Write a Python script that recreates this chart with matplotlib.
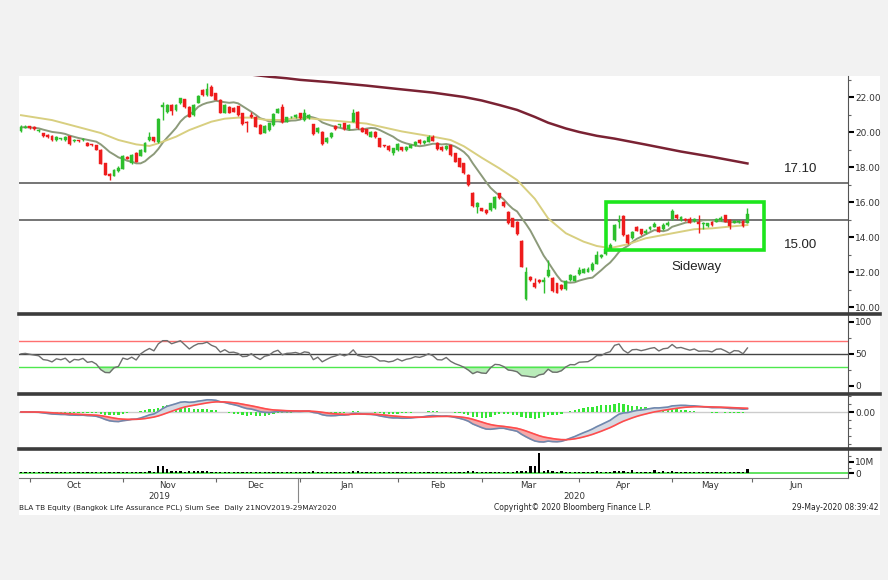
import numpy as np
import pandas as pd
import matplotlib
matplotlib.use('Agg')
import matplotlib.pyplot as plt
from matplotlib.patches import Rectangle
from matplotlib.lines import Line2D
from matplotlib.ticker import FixedLocator, MultipleLocator, FormatStrFormatter, NullFormatter

plt.rcParams['font.family'] = 'DejaVu Sans'

# Thai market holidays (SET closed)
holidays = ['2019-10-14', '2019-10-23', '2019-12-05', '2019-12-10', '2019-12-31',
            '2020-01-01', '2020-02-10', '2020-04-06', '2020-05-01', '2020-05-04',
            '2020-05-06', '2020-06-03']

# daily candles, 27-Sep-2019 .. 29-May-2020
opens = [20.05, 20.25, 20.35, 20.33, 20.05, 19.95, 19.84, 19.80, 19.56, 19.62,
         19.55, 19.78, 19.50, 19.53, 19.55, 19.40, 19.30, 19.25, 19.00, 18.22,
         17.62, 17.52, 17.80, 17.92, 18.58, 18.22, 18.82, 18.66, 18.89, 19.56,
         19.72, 19.45, 21.45, 21.18, 21.56, 21.28, 21.66, 21.88, 21.46, 20.99,
         21.70, 22.42, 22.13, 22.61, 22.23, 21.85, 21.12, 21.46, 21.37, 21.50,
         21.08, 20.61, 20.99, 20.89, 20.42, 19.98, 20.13, 20.42, 21.12, 21.46,
         20.61, 20.85, 20.85, 21.08, 20.70, 20.80, 20.46, 20.04, 20.04, 19.47,
         19.71, 20.36, 20.40, 20.51, 20.17, 20.61, 21.18, 20.23, 20.17, 19.75,
         20.04, 19.66, 19.24, 19.22, 18.80, 18.99, 19.14, 18.99, 19.12, 19.27,
         19.56, 19.37, 19.47, 19.75, 19.41, 19.18, 19.03, 19.27, 18.80, 18.51,
         18.23, 17.56, 16.55, 15.75, 15.66, 15.56, 15.56, 15.66, 16.51, 16.04,
         15.47, 15.08, 14.89, 13.81, 10.46, 11.75, 11.37, 11.56, 11.45, 11.79,
         11.65, 11.37, 11.27, 11.03, 11.56, 11.52, 11.90, 11.98, 12.04, 12.10,
         12.50, 12.85, 13.05, 13.30, 13.85, 14.89, 15.22, 14.13, 13.94, 14.57,
         14.46, 14.23, 14.46, 14.61, 14.57, 14.46, 14.70, 15.03, 15.27, 14.99,
         15.03, 15.03, 14.95, 14.89, 14.78, 14.65, 14.89, 14.89, 14.99, 15.27,
         14.99, 14.84, 14.89, 14.95, 14.84]
closes = [20.28, 20.32, 20.24, 20.18, 20.12, 19.78, 19.72, 19.55, 19.75, 19.66,
          19.76, 19.35, 19.55, 19.50, 19.60, 19.22, 19.27, 19.00, 18.20, 17.57,
          17.52, 17.85, 17.95, 18.66, 18.48, 18.70, 18.33, 18.99, 19.40, 19.75,
          19.48, 20.74, 21.55, 21.56, 21.20, 21.56, 21.94, 21.46, 20.90, 21.56,
          22.08, 22.13, 22.47, 22.08, 21.85, 21.12, 21.56, 21.12, 21.18, 20.99,
          20.46, 20.51, 20.89, 20.32, 19.90, 20.36, 20.51, 21.04, 21.32, 20.61,
          20.85, 20.89, 20.99, 20.80, 21.08, 20.99, 19.90, 20.23, 19.33, 19.66,
          19.98, 20.17, 20.44, 20.17, 20.42, 21.12, 20.23, 20.04, 19.90, 20.04,
          19.75, 19.18, 19.20, 18.99, 19.08, 19.33, 18.99, 19.18, 19.27, 19.46,
          19.37, 19.52, 19.75, 19.52, 19.03, 18.99, 19.22, 18.70, 18.32, 18.04,
          17.66, 16.99, 15.79, 15.98, 15.52, 15.37, 15.94, 16.32, 16.23, 15.79,
          14.80, 14.61, 14.19, 12.32, 12.04, 11.56, 11.18, 11.46, 11.56, 12.13,
          10.90, 10.84, 11.03, 11.52, 11.84, 11.79, 12.13, 12.17, 12.20, 12.50,
          13.00, 13.00, 13.35, 13.55, 14.70, 14.99, 14.13, 13.66, 14.32, 14.38,
          14.19, 14.38, 14.61, 14.76, 14.32, 14.70, 14.80, 15.52, 15.08, 15.18,
          15.00, 14.84, 15.03, 14.76, 14.80, 14.80, 14.70, 15.03, 15.08, 14.89,
          14.65, 14.95, 14.92, 14.65, 15.33]
highs = [20.40, 20.42, 20.38, 20.36, 20.20, 19.98, 19.88, 19.82, 19.78, 19.70,
         19.80, 19.80, 19.62, 19.58, 19.68, 19.44, 19.34, 19.28, 19.02, 18.25,
         17.65, 17.92, 18.05, 18.70, 18.62, 18.74, 18.85, 19.02, 19.45, 20.04,
         19.76, 20.80, 21.75, 21.60, 21.60, 21.62, 21.98, 21.92, 21.50, 21.60,
         22.12, 22.46, 22.83, 22.68, 22.26, 21.88, 21.60, 21.50, 21.42, 21.52,
         21.12, 20.64, 21.15, 20.92, 20.45, 20.40, 20.55, 21.10, 21.38, 21.60,
         20.90, 20.95, 21.05, 21.12, 21.32, 21.04, 20.50, 20.30, 20.08, 19.72,
         20.02, 20.42, 20.50, 20.55, 20.46, 21.31, 21.22, 20.28, 20.20, 20.08,
         20.08, 19.70, 19.30, 19.26, 19.12, 19.38, 19.18, 19.22, 19.32, 19.52,
         19.60, 19.58, 19.84, 19.85, 19.45, 19.22, 19.26, 19.30, 18.84, 18.55,
         18.26, 17.60, 16.58, 16.04, 15.70, 15.60, 15.98, 16.36, 16.55, 16.08,
         15.50, 15.12, 14.92, 13.85, 12.32, 11.80, 11.66, 11.60, 11.75, 12.70,
         11.70, 11.40, 11.30, 11.56, 11.88, 11.84, 12.32, 12.24, 12.30, 12.56,
         13.20, 13.06, 13.40, 13.65, 14.75, 15.27, 15.27, 14.17, 14.36, 14.65,
         14.50, 14.46, 14.66, 14.90, 14.62, 14.80, 14.95, 15.60, 15.32, 15.22,
         15.10, 15.18, 15.08, 15.27, 14.86, 14.84, 14.92, 15.08, 15.20, 15.30,
         15.03, 14.99, 14.97, 14.99, 15.65]
lows = [20.00, 20.22, 20.20, 20.15, 20.02, 19.74, 19.70, 19.52, 19.52, 19.58,
        19.52, 19.30, 19.45, 19.47, 19.52, 19.20, 19.24, 18.98, 18.18, 17.55,
        17.25, 17.48, 17.75, 17.90, 18.45, 18.20, 18.30, 18.62, 18.85, 19.52,
        19.45, 19.40, 20.70, 21.10, 20.98, 21.22, 21.60, 21.40, 20.85, 20.95,
        21.66, 22.10, 22.10, 22.05, 21.82, 21.10, 21.08, 21.08, 21.15, 20.96,
        20.42, 20.04, 20.80, 20.28, 19.88, 19.95, 20.10, 20.38, 21.08, 20.55,
        20.58, 20.80, 20.82, 20.76, 20.66, 20.76, 19.86, 19.98, 19.28, 19.40,
        19.66, 20.12, 20.30, 20.12, 20.14, 20.58, 20.18, 20.00, 19.86, 19.72,
        19.70, 19.14, 19.14, 18.96, 18.70, 18.96, 18.96, 18.96, 19.08, 19.24,
        19.33, 19.34, 19.44, 19.50, 19.00, 18.96, 19.00, 18.66, 18.28, 18.00,
        17.62, 16.95, 15.75, 15.37, 15.48, 15.33, 15.52, 15.62, 16.20, 15.75,
        14.76, 14.56, 14.14, 12.28, 10.42, 11.50, 11.08, 11.40, 10.80, 11.75,
        10.86, 10.80, 10.98, 10.98, 11.52, 11.48, 11.86, 11.94, 12.00, 12.06,
        12.46, 12.80, 13.00, 13.25, 13.80, 14.51, 14.10, 13.60, 13.90, 14.34,
        14.15, 14.20, 14.42, 14.58, 14.28, 14.42, 14.66, 14.99, 15.04, 14.95,
        14.95, 14.80, 14.90, 14.23, 14.46, 14.60, 14.66, 14.86, 14.95, 14.86,
        14.46, 14.80, 14.84, 14.60, 14.80]
volume_m = [1.0, 0.8, 0.9, 0.8, 1.0, 0.9, 0.8, 1.0, 0.9, 0.8,
            0.8, 1.0, 0.8, 0.9, 0.8, 0.9, 1.0, 1.1, 1.2, 1.3,
            1.2, 1.0, 0.9, 1.2, 1.0, 0.9, 1.0, 1.1, 1.4, 2.0,
            1.2, 6.6, 6.0, 3.4, 2.0, 2.4, 2.4, 1.5, 2.0, 2.4,
            2.2, 2.0, 2.4, 1.5, 1.2, 1.4, 1.0, 1.0, 1.1, 1.0,
            1.5, 1.2, 1.0, 1.1, 1.3, 1.0, 1.1, 1.5, 1.2, 1.0,
            0.9, 0.8, 0.9, 1.0, 1.4, 1.2, 2.0, 1.1, 1.0, 0.9,
            1.0, 0.9, 0.8, 1.0, 1.1, 2.4, 2.0, 1.2, 1.0, 1.0,
            0.9, 1.0, 0.9, 0.8, 1.0, 1.1, 0.9, 0.8, 0.9, 1.0,
            0.8, 0.9, 1.0, 0.9, 1.0, 1.1, 0.9, 1.2, 1.3, 1.4,
            1.3, 1.6, 1.8, 1.5, 1.3, 1.2, 1.4, 1.5, 1.2, 1.3,
            1.4, 1.5, 1.7, 2.2, 2.0, 6.5, 6.0, 17.8, 2.4, 3.0,
            2.0, 1.5, 1.6, 1.3, 1.2, 1.0, 1.1, 1.2, 1.0, 1.3,
            1.6, 1.2, 1.4, 1.5, 2.4, 1.8, 1.6, 1.3, 2.5, 1.2,
            1.1, 1.2, 1.3, 3.0, 1.2, 1.6, 1.3, 2.2, 1.4, 1.1,
            1.0, 1.1, 1.0, 1.2, 1.0, 1.1, 1.2, 1.0, 1.1, 1.2,
            1.0, 1.1, 1.0, 1.2, 3.5]

# slow moving average (yellow), by trading-day index
slow_ma_idx = [0, 7, 14, 18, 22, 26, 29, 31, 35, 38, 43, 46, 49, 52, 55, 59, 63, 67,
               71, 78, 86, 93, 97, 100, 104, 108, 112, 116, 119, 123, 127, 130, 133,
               137, 141, 145, 149, 152, 156, 160, 164]
slow_ma_val = [20.98, 20.70, 20.23, 19.96, 19.56, 19.31, 19.22, 19.37, 19.75, 20.13,
               20.61, 20.78, 20.84, 20.84, 20.72, 20.70, 20.85, 20.75, 20.66, 20.50,
               20.05, 19.75, 19.56, 19.20, 18.55, 17.94, 17.27, 16.20, 15.08, 14.23,
               13.75, 13.50, 13.38, 13.60, 13.94, 14.13, 14.32, 14.46, 14.51, 14.61,
               14.70]
# 200-day average (dark red), enters the panel from the top
ma200_idx = [52, 56, 60, 63, 70, 78, 85, 93, 100, 104, 108, 112, 116, 119, 123, 126,
             130, 134, 141, 149, 156, 164]
ma200_val = [23.30, 23.18, 23.09, 23.00, 22.86, 22.67, 22.48, 22.27, 22.02, 21.82,
             21.56, 21.28, 20.88, 20.55, 20.22, 20.02, 19.80, 19.64, 19.30, 18.90,
             18.60, 18.22]

levels = [17.10, 15.00]
level_labels = ['17.10', '15.00']
box_days = (132, 167.7)
box_prices = (13.27, 16.0)


def wilder_rsi(values, n=14, seed=0.12):
    avg_gain = avg_loss = seed
    prev = values[0]
    out = []
    for v in values:
        d = v - prev
        prev = v
        avg_gain = (avg_gain * (n - 1) + max(d, 0)) / n
        avg_loss = (avg_loss * (n - 1) + max(-d, 0)) / n
        out.append(100 - 100 / (1 + avg_gain / avg_loss))
    return np.array(out)


def main():
    cal = pd.bdate_range('2019-09-27', '2020-06-30').difference(pd.to_datetime(holidays))
    n = len(closes)
    x = np.arange(n)
    o = np.array(opens)
    c = np.array(closes)
    h = np.array(highs)
    l = np.array(lows)
    s = pd.Series(closes)

    fast_ma = s.rolling(10, min_periods=1).mean()
    rsi = wilder_rsi(closes)
    ema12 = s.ewm(span=12, adjust=False).mean()
    ema26 = s.ewm(span=26, adjust=False).mean()
    macd = (ema12 - ema26).values
    signal = pd.Series(macd).ewm(span=9, adjust=False).mean().values
    hist = macd - signal

    W, H = 888, 580
    fig = plt.figure(figsize=(W / 100, H / 100), dpi=100, facecolor='#f2f2f2')
    fig.add_artist(Rectangle((19 / W, 1 - 515 / H), (880 - 19) / W, (515 - 76) / H,
                             transform=fig.transFigure, facecolor='white',
                             edgecolor='none', zorder=0))

    left, width = 19 / W, (848 - 19) / W

    def panel(top, bottom):
        ax = fig.add_axes([left, 1 - bottom / H, width, (bottom - top) / H])
        ax.set_facecolor('none')
        for sp in ['top', 'left', 'bottom']:
            ax.spines[sp].set_visible(False)
        ax.spines['right'].set_color('#555555')
        ax.yaxis.tick_right()
        ax.tick_params(axis='y', which='major', direction='out', length=4, width=1.5,
                       color='black', labelsize=6.5, labelcolor='#333333', pad=1)
        ax.tick_params(axis='y', which='minor', direction='out', length=2.5, width=0.8,
                       color='#666666')
        ax.tick_params(axis='x', which='both', bottom=False, labelbottom=False)
        ax.set_xlim(-0.45, 186.7)
        return ax

    ax = panel(76, 313)
    ax_rsi = panel(315, 393)
    ax_macd = panel(395, 448)
    ax_vol = panel(450, 478)

    # ---- price panel
    up = c >= o
    col = np.where(up, '#2dbf2d', '#ee1c1c')
    ax.vlines(x, l, h, colors=col, lw=1, zorder=3)
    ax.bar(x, np.maximum(np.abs(c - o), 0.05), bottom=np.minimum(o, c), width=0.66,
           color=col, edgecolor=col, linewidth=0.3, zorder=4)
    ax.plot(x, fast_ma, color='#8c9a7a', lw=1.4, zorder=2)
    ax.plot(slow_ma_idx, slow_ma_val, color='#d8cf80', lw=1.4, zorder=2)
    ax.plot(ma200_idx, ma200_val, color='#7a2233', lw=1.8, zorder=2)
    for lev, lab, ty in zip(levels, level_labels, [17.90, 13.56]):
        ax.axhline(lev, color='#5e5e5e', lw=1.2, zorder=1)
        ax.text(176, ty, lab, ha='center', va='center', fontsize=9.5,
                family='Liberation Sans', color='#222222')
    ax.add_patch(Rectangle((box_days[0], box_prices[0]), box_days[1] - box_days[0],
                           box_prices[1] - box_prices[0], fill=False,
                           edgecolor='#1de61d', lw=2.6, zorder=5))
    ax.text(152.6, 12.3, 'Sideway', ha='center', va='center', fontsize=9.5,
            family='Liberation Sans', color='#222222')
    ax.set_ylim(9.67, 23.22)
    ax.yaxis.set_major_locator(FixedLocator([10, 12, 14, 16, 18, 20, 22]))
    ax.yaxis.set_major_formatter(FormatStrFormatter('%.2f'))
    ax.yaxis.set_minor_locator(FixedLocator([11, 13, 15, 17, 19, 21, 23]))

    # ---- RSI panel
    ax_rsi.axhline(70, color='#ff7070', lw=1)
    ax_rsi.axhline(50, color='#444444', lw=1)
    ax_rsi.axhline(30, color='#4ee84e', lw=1)
    ax_rsi.fill_between(x, rsi, 30, where=rsi < 30, interpolate=True,
                        color='#b9ecb9', zorder=1)
    ax_rsi.plot(x, rsi, color='#6e6e6e', lw=1.0, zorder=2)
    ax_rsi.set_ylim(-10.9, 110.4)
    ax_rsi.yaxis.set_major_locator(FixedLocator([0, 50, 100]))
    ax_rsi.yaxis.set_minor_locator(FixedLocator([25, 75]))

    # ---- MACD panel
    lo = min(macd.min(), signal.min())
    hi = max(macd.max(), signal.max(), 1e-6)
    scale = min(30 / abs(lo), 14 / hi)
    ax_macd.axhline(0, color='#cccccc', lw=1, zorder=1)
    ax_macd.bar(x, hist, width=0.5, color='#35e635', zorder=2)
    ax_macd.fill_between(x, macd, signal, where=macd < signal, interpolate=True,
                         color='#f5a9a9', zorder=2)
    ax_macd.fill_between(x, macd, signal, where=macd >= signal, interpolate=True,
                         color='#d6d9e2', zorder=2)
    ax_macd.plot(x, macd, color='#6f88ae', lw=1.2, zorder=3)
    ax_macd.plot(x, signal, color='#ff4c4c', lw=1.2, zorder=3)
    ax_macd.set_ylim(-36 / scale, 17 / scale)
    ax_macd.yaxis.set_major_locator(FixedLocator([0]))
    ax_macd.yaxis.set_major_formatter(FormatStrFormatter('%.2f'))
    ax_macd.yaxis.set_minor_locator(MultipleLocator(0.5))

    # ---- volume panel
    ax_vol.axhline(0, color='#44dd44', lw=1.2, zorder=1)
    ax_vol.bar(x, volume_m, width=0.5, color='black', zorder=2)
    ax_vol.set_ylim(-4.05, 20.1)
    ax_vol.yaxis.set_major_locator(FixedLocator([0, 10]))
    ax_vol.set_yticklabels(['0', '10M'])
    ax_vol.yaxis.set_minor_locator(FixedLocator([5, 15]))
    ax_vol.spines['bottom'].set_visible(True)
    ax_vol.spines['bottom'].set_color('#777777')

    # month ticks / labels
    months = cal.to_period('M')
    starts = [i for i in range(len(cal)) if i == 0 or months[i] != months[i - 1]]
    bounds = starts + [len(cal)]
    tick_pos = starts[1:]
    label_pos, label_txt = [], []
    for a, b in zip(bounds[1:-1], bounds[2:]):
        label_pos.append((a + b) / 2 - 0.5)
        label_txt.append(cal[a].strftime('%b'))
    ax_vol.xaxis.set_major_locator(FixedLocator(tick_pos))
    ax_vol.xaxis.set_major_formatter(NullFormatter())
    ax_vol.xaxis.set_minor_locator(FixedLocator(label_pos))
    ax_vol.set_xticklabels(label_txt, minor=True)
    ax_vol.tick_params(axis='x', which='major', bottom=True, direction='out', length=3,
                       width=0.8, color='#666666')
    ax_vol.tick_params(axis='x', which='minor', bottom=True, labelbottom=True, length=0,
                       labelsize=6.2, labelcolor='#333333', pad=2.5)

    jan = [i for i in starts if cal[i].year == 2020][0]
    trans = ax_vol.get_xaxis_transform()
    ax_vol.plot([jan - 0.5, jan - 0.5], [0, -0.85], transform=trans, clip_on=False,
                color='#888888', lw=0.8)
    ax_vol.text((-0.45 + jan) / 2, -0.66, '2019', transform=trans, ha='center',
                va='center', fontsize=6.2, color='#333333')
    ax_vol.text((jan + 186.7) / 2, -0.66, '2020', transform=trans, ha='center',
                va='center', fontsize=6.2, color='#333333')

    # panel separators
    for yy in [314, 394, 449]:
        fig.add_artist(Line2D([19 / W, 880 / W], [1 - yy / H, 1 - yy / H],
                              transform=fig.transFigure, color='#3c3c3c', lw=2.6,
                              zorder=10))

    # footer
    fy = 1 - 508 / H
    fig.text(19 / W, fy, 'BLA TB Equity (Bangkok Life Assurance PCL) Sium See  Daily 21NOV2019-29MAY2020',
             fontsize=5.3, color='#222222', va='center')
    fig.text(494 / W, fy, 'Copyright\u00a9 2020 Bloomberg Finance L.P.', fontsize=5.5,
             color='#222222', va='center')
    fig.text(878 / W, fy, '29-May-2020 08:39:42', fontsize=5.5, color='#222222',
             va='center', ha='right')

    fig.savefig('out.png', dpi=100, facecolor=fig.get_facecolor())


if __name__ == '__main__':
    main()
